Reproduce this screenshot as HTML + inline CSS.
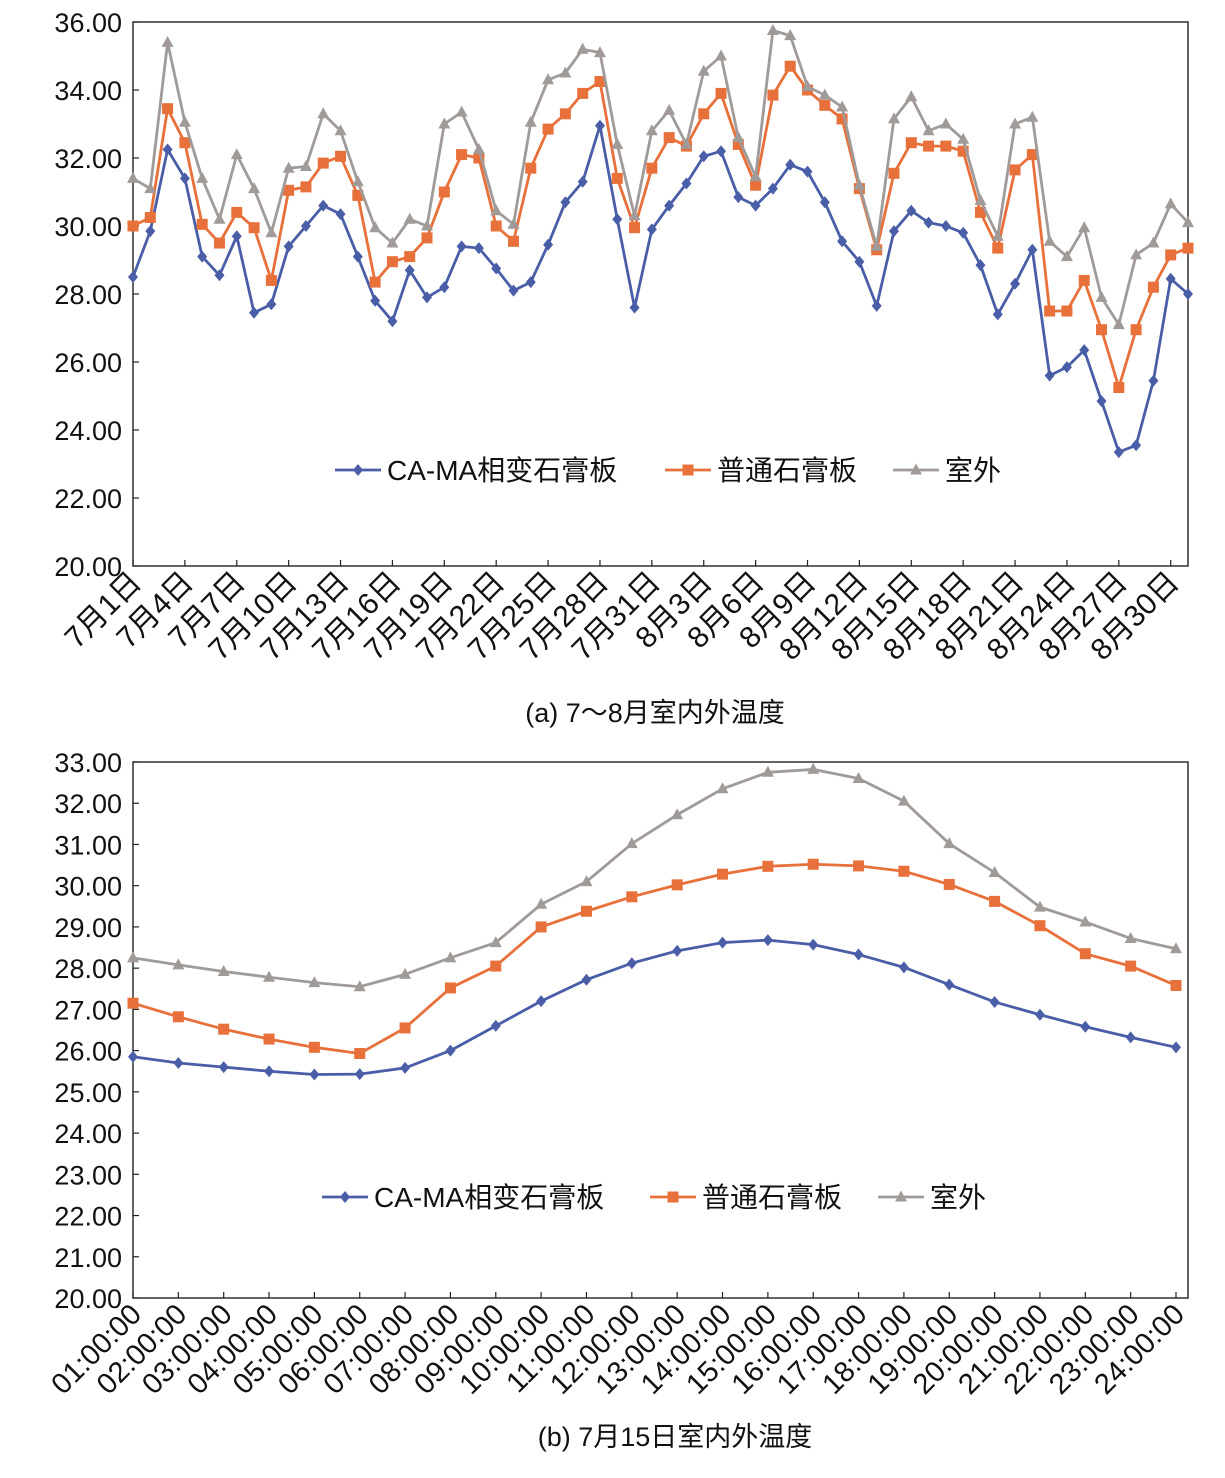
<!DOCTYPE html>
<html><head><meta charset="utf-8">
<style>
html,body{margin:0;padding:0;background:#fff;}
svg{display:block;font-family:"Liberation Sans","Noto Sans CJK SC",sans-serif;}
</style></head>
<body>
<svg id="chart" width="1225" height="1478" viewBox="0 0 1225 1478" xmlns="http://www.w3.org/2000/svg"></svg>
<script>
// ---- Chart (a) data ----
const aBlue = [28.5,29.85,32.25,31.4,29.1,28.55,29.7,27.45,27.7,29.4,30.0,30.6,30.35,29.1,27.8,27.2,28.7,27.9,28.2,29.4,29.35,28.75,28.1,28.35,29.45,30.7,31.3,32.95,30.2,27.6,29.9,30.6,31.25,32.05,32.2,30.85,30.6,31.1,31.8,31.6,30.7,29.55,28.95,27.65,29.85,30.45,30.1,30.0,29.8,28.85,27.4,28.3,29.3,25.6,25.85,26.35,24.85,23.35,23.55,25.45,28.45,28.0];
const aOrange = [30.0,30.25,33.45,32.45,30.05,29.5,30.4,29.95,28.4,31.05,31.15,31.85,32.05,30.9,28.35,28.95,29.1,29.65,31.0,32.1,32.0,30.0,29.55,31.7,32.85,33.3,33.9,34.25,31.4,29.95,31.7,32.6,32.35,33.3,33.9,32.4,31.2,33.85,34.7,34.0,33.55,33.15,31.1,29.3,31.55,32.45,32.35,32.35,32.2,30.4,29.35,31.65,32.1,27.5,27.5,28.4,26.95,25.25,26.95,28.2,29.15,29.35];
const aGray = [31.4,31.1,35.4,33.05,31.4,30.2,32.1,31.1,29.8,31.7,31.75,33.3,32.8,31.3,29.95,29.5,30.2,30.0,33.0,33.35,32.25,30.45,30.05,33.05,34.3,34.5,35.2,35.1,32.4,30.3,32.8,33.4,32.4,34.55,35.0,32.6,31.45,35.75,35.6,34.1,33.85,33.5,31.2,29.4,33.15,33.8,32.8,33.0,32.55,30.75,29.7,33.0,33.2,29.55,29.1,29.95,27.9,27.1,29.15,29.5,30.65,30.1];
const aTicks = [20,22,24,26,28,30,32,34,36];
const aXLabels = ["7月1日","7月4日","7月7日","7月10日","7月13日","7月16日","7月19日","7月22日","7月25日","7月28日","7月31日","8月3日","8月6日","8月9日","8月12日","8月15日","8月18日","8月21日","8月24日","8月27日","8月30日"];
// ---- Chart (b) data ----
const bBlue = [25.85,25.7,25.6,25.5,25.42,25.43,25.58,26.0,26.6,27.2,27.72,28.12,28.42,28.62,28.68,28.57,28.33,28.02,27.6,27.18,26.87,26.58,26.32,26.08];
const bOrange = [27.15,26.82,26.52,26.28,26.08,25.93,26.55,27.52,28.05,29.0,29.38,29.73,30.02,30.28,30.47,30.52,30.48,30.35,30.03,29.62,29.03,28.35,28.05,27.58];
const bGray = [28.25,28.08,27.92,27.78,27.65,27.55,27.85,28.25,28.62,29.55,30.1,31.02,31.72,32.35,32.75,32.82,32.6,32.05,31.02,30.32,29.48,29.12,28.72,28.47];
const bTicks = [20,21,22,23,24,25,26,27,28,29,30,31,32,33];
const bXLabels = ["01:00:00","02:00:00","03:00:00","04:00:00","05:00:00","06:00:00","07:00:00","08:00:00","09:00:00","10:00:00","11:00:00","12:00:00","13:00:00","14:00:00","15:00:00","16:00:00","17:00:00","18:00:00","19:00:00","20:00:00","21:00:00","22:00:00","23:00:00","24:00:00"];
const seriesNames = ["CA-MA相变石膏板","普通石膏板","室外"];

const NS="http://www.w3.org/2000/svg";
const svg=document.getElementById('chart');
const COL=["#4a5ea8","#e8703a","#a09a98"];
function mk(tag,attrs,parent){const e=document.createElementNS(NS,tag);for(const k in attrs)e.setAttribute(k,attrs[k]);(parent||svg).appendChild(e);return e;}
function marker(g,type,x,y,c){
  if(type===0){const e=mk('polygon',{points:`${x},${y-6} ${x+5},${y} ${x},${y+6} ${x-5},${y}`,fill:c},g);
    }
  else if(type===1){const e=mk('rect',{x:x-5.5,y:y-5.5,width:11,height:11,fill:c},g);
    }
  else {const e=mk('polygon',{points:`${x},${y-6.5} ${x+6},${y+4.5} ${x-6},${y+4.5}`,fill:c},g);
    }
}
function drawChart(cfg){
  const g=mk('g',{});
  
  
  const {L,R,T,B,ymin,ymax,n}=cfg;
  const X=i=>L+i*(R-L)/(n-1);
  const Y=v=>B-(v-ymin)/(ymax-ymin)*(B-T);
  const fr=mk('rect',{x:L,y:T,width:cfg.W-L,height:B-T,fill:'none',stroke:'#222','stroke-width':1.4},g);
  
  cfg.ticks.forEach(v=>{
    const y=Y(v);
    mk('line',{x1:L,x2:L+6,y1:y,y2:y,stroke:'#222','stroke-width':1.2},g);
    const t=mk('text',{x:L-11,y:y+10,'text-anchor':'end','font-size':27,fill:'#111'},g);
    t.textContent=v.toFixed(2);
    
  });
  for(let i=0;i<n;i++){
    const x=X(i);
    if(i%cfg.step===0){
      mk('line',{x1:x,x2:x,y1:B,y2:B-6,stroke:'#222','stroke-width':1.2},g);
      const lab=cfg.xlabels[i/cfg.step];
      if(lab!==undefined){
        const ax=x+10, ay=B+18;
        const t=mk('text',{x:ax,y:ay,'text-anchor':'end','font-size':cfg.xfont,fill:'#111',transform:`rotate(-45 ${ax} ${ay})`},g);
        t.textContent=lab;
        
      }
    }
  }
  cfg.series.forEach((s,k)=>{
    const sg=mk('g',{},g);
    
    
    const pts=s.map((v,i)=>X(i)+','+Y(v)).join(' ');
    mk('polyline',{points:pts,fill:'none',stroke:COL[k],'stroke-width':2.8,'stroke-linejoin':'round'},sg);
    s.forEach((v,i)=>marker(sg,k,X(i),Y(v),COL[k]));
  });
  const lg=mk('g',{},g);
  
  cfg.legend.forEach((lx,k)=>{
    const eg=mk('g',{},lg);
    
    mk('line',{x1:lx,x2:lx+46,y1:cfg.ly,y2:cfg.ly,stroke:COL[k],'stroke-width':2.8},eg);
    marker(eg,k,lx+23,cfg.ly,COL[k]);
    const t=mk('text',{x:lx+52,y:cfg.ly+10,'font-size':28,fill:'#111'},eg);
    t.textContent=seriesNames[k];
  });
  const c=mk('text',{x:cfg.capx,y:cfg.capy,'text-anchor':'middle','font-size':27,fill:'#111'},g);
  c.textContent=cfg.caption;
  
}
drawChart({name:'chart-a-july-august',L:133,R:1188,W:1188,T:22,B:566,ymin:20,ymax:36,n:aBlue.length,ticks:aTicks,step:3,xlabels:aXLabels,xfont:30,
  series:[aBlue,aOrange,aGray],legend:[335,665,893],ly:470,caption:'(a) 7～8月室内外温度',capx:655,capy:722});
drawChart({name:'chart-b-july-15',L:133,R:1176,W:1188,T:762,B:1298,ymin:20,ymax:33,n:bBlue.length,ticks:bTicks,step:1,xlabels:bXLabels,xfont:29,
  series:[bBlue,bOrange,bGray],legend:[322,650,878],ly:1197,caption:'(b) 7月15日室内外温度',capx:675,capy:1446});
</script>
</body></html>
